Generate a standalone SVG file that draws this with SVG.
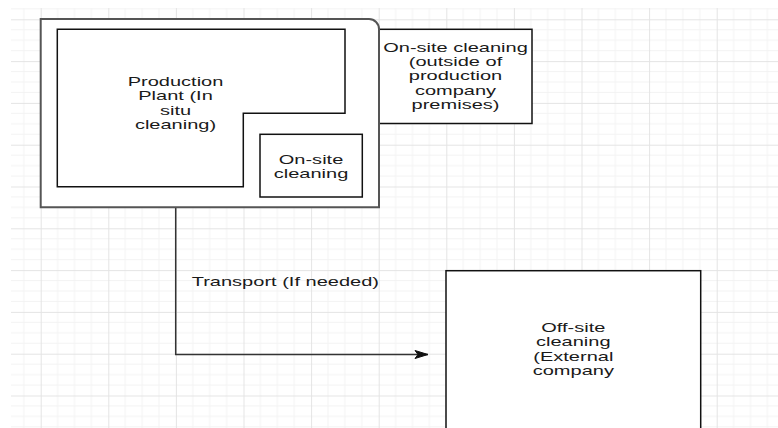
<svg xmlns="http://www.w3.org/2000/svg" width="778" height="428" viewBox="0 0 778 428">
<style>
.lbl{font-family:"Liberation Sans",Arial,sans-serif;font-size:12.8px;fill:#1a1a1a;text-anchor:middle}
.lbl-l{font-family:"Liberation Sans",Arial,sans-serif;font-size:12.8px;fill:#1a1a1a}
.box{fill:#fff;stroke:#111;stroke-width:1.5}
.outer{fill:#fff;stroke:#555;stroke-width:2}
.conn{fill:none;stroke:#333;stroke-width:1.5}
</style>
<defs>
<pattern id="grid" patternUnits="userSpaceOnUse" x="40.7" y="19.3" width="67.6" height="41.8">
<path d="M16.9 0V41.8M33.8 0V41.8M50.7 0V41.8M0 10.45H67.6M0 20.9H67.6M0 31.35H67.6" stroke="#f3f3f3" stroke-width="1" fill="none"/>
<path d="M0.5 0V41.8M0 0.5H67.6" stroke="#e4e4e4" stroke-width="1" fill="none"/>
</pattern>
<marker id="arr" markerUnits="userSpaceOnUse" markerWidth="16" markerHeight="12" refX="14" refY="5" orient="auto">
<path d="M1 1L14 5L1 9L4 5Z" fill="#111" stroke="#111" stroke-width="1"/>
</marker>
</defs>
<rect x="0" y="0" width="778" height="428" fill="#fff"/>
<rect x="11" y="8" width="767" height="420" fill="url(#grid)"/>

<g id="connectors">
<path class="conn" d="M175.7 207.5V354.5H428" marker-end="url(#arr)"/>
<text class="lbl-l" transform="translate(191.7,286) scale(1.565,1)" x="0" y="0">Transport (If needed)</text>
</g>

<g id="outside-cleaning">
<rect class="box" x="379" y="29.3" width="153" height="94.2"/>
<text class="lbl" transform="translate(455.5,0) scale(1.565,1)"><tspan x="0" y="51.7">On-site cleaning</tspan><tspan x="0" y="66">(outside of</tspan><tspan x="0" y="80.3">production</tspan><tspan x="0" y="94.6">company</tspan><tspan x="0" y="108.9">premises)</tspan></text>
</g>

<g id="container">
<path class="outer" d="M40.7 19H369A10 10 0 0 1 379 29V207.3H40.7Z"/>
</g>

<g id="production-plant">
<path class="box" d="M57.3 29.3H345V113.3H243.3V186.7H57.3Z"/>
<text class="lbl" transform="translate(175.5,0) scale(1.565,1)"><tspan x="0" y="86">Production</tspan><tspan x="0" y="100.3">Plant (In</tspan><tspan x="0" y="114.6">situ</tspan><tspan x="0" y="128.9">cleaning)</tspan></text>
</g>

<g id="onsite-cleaning">
<rect class="box" x="260" y="134.3" width="102.3" height="62.7"/>
<text class="lbl" transform="translate(311,0) scale(1.565,1)"><tspan x="0" y="164">On-site</tspan><tspan x="0" y="178.3">cleaning</tspan></text>
</g>

<g id="offsite-cleaning">
<rect class="box" x="446" y="270.7" width="254.7" height="170"/>
<text class="lbl" transform="translate(573.3,0) scale(1.565,1)"><tspan x="0" y="332">Off-site</tspan><tspan x="0" y="346.3">cleaning</tspan><tspan x="0" y="360.6">(External</tspan><tspan x="0" y="374.9">company</tspan></text>
</g>
</svg>
